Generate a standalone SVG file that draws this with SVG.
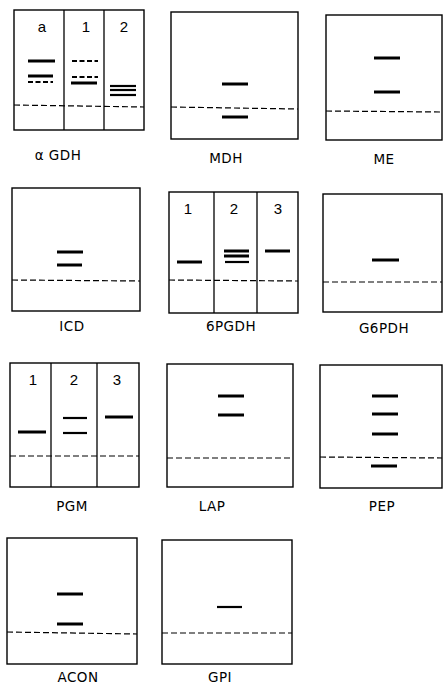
<svg xmlns="http://www.w3.org/2000/svg" width="444" height="688" viewBox="0 0 444 688">
<style>
.box{fill:none;stroke:#000;stroke-width:1.4}
.div{stroke:#000;stroke-width:1.3}
.ori{stroke:#000;stroke-width:1.2;stroke-dasharray:6,3;fill:none}
.b{stroke:#000;stroke-width:3}
.bt{stroke:#000;stroke-width:2.2}
.bd{stroke:#000;stroke-width:1.8;stroke-dasharray:5,2.5}
.lbl{font-family:"DejaVu Sans","Liberation Sans",sans-serif;font-size:13.5px;text-anchor:middle;fill:#000;letter-spacing:0.5px}
.ln{font-family:"Liberation Sans",sans-serif;font-size:15px;text-anchor:middle;fill:#000}
</style>
<rect width="444" height="688" fill="#fff"/>
<g id="aGDH">
<rect class="box" x="14" y="10" width="130" height="120"/>
<line class="div" x1="64" y1="10" x2="64" y2="130"/>
<line class="div" x1="104" y1="10" x2="104" y2="130"/>
<line class="ori" x1="14" y1="105" x2="144" y2="107"/>
<text class="ln" x="42" y="32">a</text>
<text class="ln" x="86" y="32">1</text>
<text class="ln" x="124" y="32">2</text>
<line class="b" x1="28" y1="61" x2="55" y2="61"/>
<line class="b" x1="28" y1="76" x2="53" y2="76"/>
<line class="bd" x1="28" y1="82" x2="53" y2="82"/>
<line class="bd" x1="72" y1="61" x2="98" y2="61"/>
<line class="bd" x1="72" y1="77" x2="98" y2="77"/>
<line class="b" x1="71" y1="83" x2="97" y2="83"/>
<line class="bt" x1="110" y1="86" x2="136" y2="86"/>
<line class="bt" x1="110" y1="90" x2="136" y2="90"/>
<line class="bt" x1="110" y1="95" x2="136" y2="95"/>
<text class="lbl" x="58" y="160">α GDH</text>
</g>
<g id="MDH">
<rect class="box" x="171" y="12" width="127" height="127"/>
<line class="ori" x1="171" y1="107" x2="298" y2="109"/>
<line class="b" x1="222" y1="84" x2="248" y2="84"/>
<line class="b" x1="222" y1="117" x2="248" y2="117"/>
<text class="lbl" x="226" y="163">MDH</text>
</g>
<g id="ME">
<rect class="box" x="326" y="15" width="116" height="125"/>
<line class="ori" x1="326" y1="111" x2="442" y2="112"/>
<line class="b" x1="374" y1="58" x2="400" y2="58"/>
<line class="b" x1="374" y1="92" x2="400" y2="92"/>
<text class="lbl" x="384" y="164">ME</text>
</g>
<g id="ICD">
<rect class="box" x="12" y="188" width="128" height="123"/>
<line class="ori" x1="12" y1="280" x2="140" y2="281"/>
<line class="b" x1="57" y1="252" x2="83" y2="252"/>
<line class="b" x1="57" y1="265" x2="82" y2="265"/>
<text class="lbl" x="72" y="331">ICD</text>
</g>
<g id="PGDH6">
<rect class="box" x="169" y="192" width="129" height="121"/>
<line class="div" x1="214" y1="192" x2="214" y2="313"/>
<line class="div" x1="257" y1="192" x2="257" y2="313"/>
<line class="ori" x1="169" y1="280" x2="298" y2="281"/>
<text class="ln" x="188" y="214">1</text>
<text class="ln" x="234" y="214">2</text>
<text class="ln" x="278" y="214">3</text>
<line class="b" x1="177" y1="262" x2="202" y2="262"/>
<line class="b" x1="224" y1="251" x2="249" y2="251"/>
<line class="b" x1="224" y1="256" x2="249" y2="256"/>
<line class="bt" x1="225" y1="262" x2="249" y2="262"/>
<line class="b" x1="265" y1="251" x2="290" y2="251"/>
<text class="lbl" x="231" y="331">6PGDH</text>
</g>
<g id="G6PDH">
<rect class="box" x="323" y="194" width="119" height="118"/>
<line class="ori" x1="323" y1="282" x2="442" y2="282"/>
<line class="b" x1="372" y1="260" x2="399" y2="260"/>
<text class="lbl" x="384" y="333">G6PDH</text>
</g>
<g id="PGM">
<rect class="box" x="10" y="363" width="129" height="124"/>
<line class="div" x1="51" y1="363" x2="51" y2="487"/>
<line class="div" x1="97" y1="363" x2="97" y2="487"/>
<line class="ori" x1="10" y1="456" x2="139" y2="456"/>
<text class="ln" x="33" y="385">1</text>
<text class="ln" x="74" y="385">2</text>
<text class="ln" x="117" y="385">3</text>
<line class="b" x1="18" y1="432" x2="46" y2="432"/>
<line class="bt" x1="63" y1="418" x2="87" y2="418"/>
<line class="bt" x1="63" y1="433" x2="87" y2="433"/>
<line class="b" x1="105" y1="417" x2="133" y2="417"/>
<text class="lbl" x="72" y="511">PGM</text>
</g>
<g id="LAP">
<rect class="box" x="167" y="364" width="126" height="123"/>
<line class="ori" x1="167" y1="458" x2="293" y2="458"/>
<line class="b" x1="218" y1="396" x2="244" y2="396"/>
<line class="b" x1="218" y1="415" x2="244" y2="415"/>
<text class="lbl" x="212" y="511">LAP</text>
</g>
<g id="PEP">
<rect class="box" x="320" y="365" width="122" height="123"/>
<line class="ori" x1="320" y1="457" x2="442" y2="458"/>
<line class="b" x1="372" y1="396" x2="398" y2="396"/>
<line class="b" x1="372" y1="414" x2="398" y2="414"/>
<line class="b" x1="372" y1="434" x2="398" y2="434"/>
<line class="b" x1="371" y1="466" x2="397" y2="466"/>
<text class="lbl" x="382" y="511">PEP</text>
</g>
<g id="ACON">
<rect class="box" x="7" y="538" width="130" height="126"/>
<line class="ori" x1="7" y1="632" x2="137" y2="634"/>
<line class="b" x1="57" y1="594" x2="83" y2="594"/>
<line class="b" x1="57" y1="624" x2="83" y2="624"/>
<text class="lbl" x="78" y="682">ACON</text>
</g>
<g id="GPI">
<rect class="box" x="162" y="540" width="130" height="124"/>
<line class="ori" x1="162" y1="633" x2="292" y2="633"/>
<line class="bt" x1="217" y1="607" x2="242" y2="607"/>
<text class="lbl" x="220" y="682">GPI</text>
</g>
</svg>
